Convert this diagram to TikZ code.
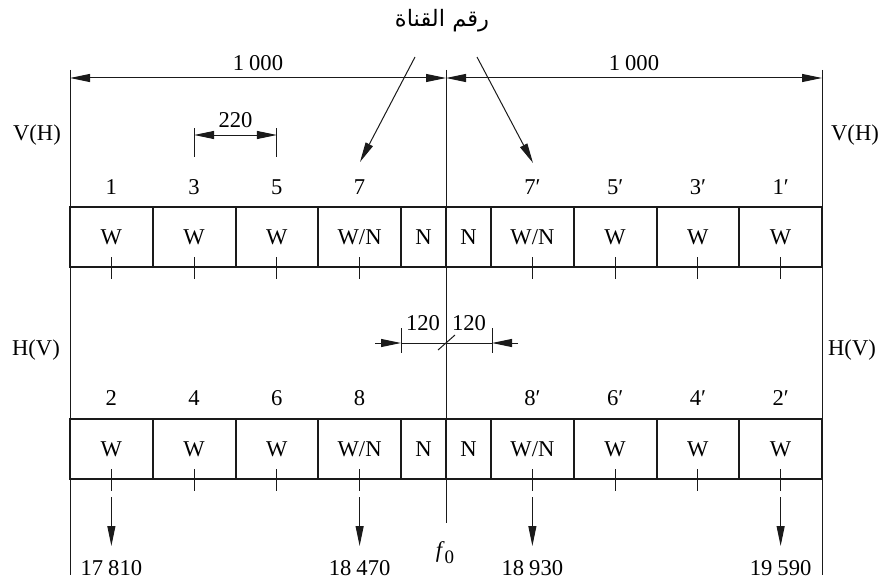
\documentclass[tikz,border=0pt]{standalone}
\usepackage{fontspec}
\setmainfont{Liberation Serif}
\newfontfamily\arabicfont[Script=Arabic]{DejaVu Sans}
\TeXXeTstate=1
\usetikzlibrary{arrows.meta,calc}
\definecolor{Ink}{HTML}{1A1A1A}
\newcommand{\gapsp}{\kern0.22em}
\tikzset{
  cell/.style={draw=Ink,line width=1pt,minimum height=30pt,inner sep=0pt},
  wcell/.style={cell,minimum width=41.375pt},
  ncell/.style={cell,minimum width=22.5pt},
  guide/.style={draw=Ink,line width=0.5pt},
  tip/.style={-{Triangle[length=10pt,width=4pt]}},
  twotip/.style={{Triangle[length=10pt,width=4pt]}-{Triangle[length=10pt,width=4pt]}}
}
\begin{document}
\begin{tikzpicture}[x=0.5pt,y=-0.5pt,font=\fontsize{11.3}{13.6}\selectfont]
\useasboundingbox (0,0) rectangle (882,583);
\foreach \i/\x/\k/\s in {1/111.375/wcell/W,2/194.125/wcell/W,3/276.875/wcell/W,4/359.625/wcell/{W/N},5/423.5/ncell/N,6/468.5/ncell/N,7/532.375/wcell/{W/N},8/615.125/wcell/W,9/697.875/wcell/W,10/780.625/wcell/W} {
  \node[\k] (t\i) at (\x,237) {\s};
  \node[\k] (b\i) at (\x,449) {\s};
}
\foreach \i/\x/\s in {1/111.375/1,2/194.125/3,3/276.875/5,4/359.625/7,7/532.375/7′,8/615.125/5′,9/697.875/3′,10/780.625/1′} {\node (tl\i) at (\x,187) {\s};}
\foreach \i/\x/\s in {1/111.375/2,2/194.125/4,3/276.875/6,4/359.625/8,7/532.375/8′,8/615.125/6′,9/697.875/4′,10/780.625/2′} {\node (bl\i) at (\x,398) {\s};}
\foreach \i in {1,2,3,4,7,8,9,10} {
  \draw[guide] ([yshift=5.5pt]t\i.south) -- ([yshift=-5.5pt]t\i.south);
  \draw[guide] ([yshift=5.5pt]b\i.south) -- ([yshift=-5.5pt]b\i.south);
}
\foreach \i/\v in {1/17\gapsp810,4/18\gapsp470,7/18\gapsp930,10/19\gapsp590} {
  \node (v\i) at ($(b\i.south)+(0,88)$) {\v};
  \coordinate (e\i) at ($(b\i.south)+(0,66)$);
  \draw[guide,tip] ([yshift=-8.5pt]b\i.south) -- (e\i);
}
\coordinate (lt) at (70,70);
\coordinate (lb) at (70,575);
\coordinate (rt) at (822,70);
\coordinate (rb) at (822,575);
\coordinate (ct) at (446,70);
\coordinate (cb) at (446,523);
\draw[guide] (lt) -- (lb);
\draw[guide] (rt) -- (rb);
\draw[guide] (ct) -- (cb);
\coordinate (dl) at (70,78);
\coordinate (dc) at (446,78);
\coordinate (dr) at (822,78);
\draw[guide,twotip] (dl) -- node[above] (k1) {1\gapsp000} (dc);
\draw[guide,twotip] (dc) -- node[above] (k2) {1\gapsp000} (dr);
\coordinate (p1) at (194.125,128);
\coordinate (q1) at (194.125,157);
\coordinate (p2) at (276.875,128);
\coordinate (q2) at (276.875,157);
\coordinate (a1) at (194.125,135);
\coordinate (a2) at (276.875,135);
\draw[guide] (p1) -- (q1);
\draw[guide] (p2) -- (q2);
\draw[guide,twotip] (a1) -- node[above] (k3) {220} (a2);
\coordinate (m1) at (401,328);
\coordinate (m2) at (401,353);
\coordinate (m3) at (492,328);
\coordinate (m4) at (492,353);
\coordinate (h0) at (375,343);
\coordinate (h1) at (401,343);
\coordinate (h2) at (492,343);
\coordinate (h3) at (518,343);
\coordinate (s1) at (438,350);
\coordinate (s2) at (455,335);
\draw[guide] (m1) -- (m2);
\draw[guide] (m3) -- (m4);
\draw[guide,tip] (h0) -- (h1);
\draw[guide] (h1) -- (h2);
\draw[guide,tip] (h3) -- (h2);
\draw[guide] (s1) -- (s2);
\node (w1) at (423,323) {120};
\node (w2) at (469,323) {120};
\node (ch) at (442,21) {\arabicfont\beginR رقم القناة\endR};
\coordinate (c1) at (415,57);
\coordinate (c2) at (477,57);
\coordinate (n1) at (360,162);
\coordinate (n2) at (533,163);
\draw[guide,tip] (c1) -- (n1);
\draw[guide,tip] (c2) -- (n2);
\node (vh1) at (37,135) {V(H)};
\node (vh2) at (855,135) {V(H)};
\node (hv1) at (36,350) {H(V)};
\node (hv2) at (852,350) {H(V)};
\node (f0) at (445,553) {\textit{f}\raisebox{-0.6ex}{\fontsize{9.5}{11}\selectfont 0}};
\end{tikzpicture}
\end{document}
